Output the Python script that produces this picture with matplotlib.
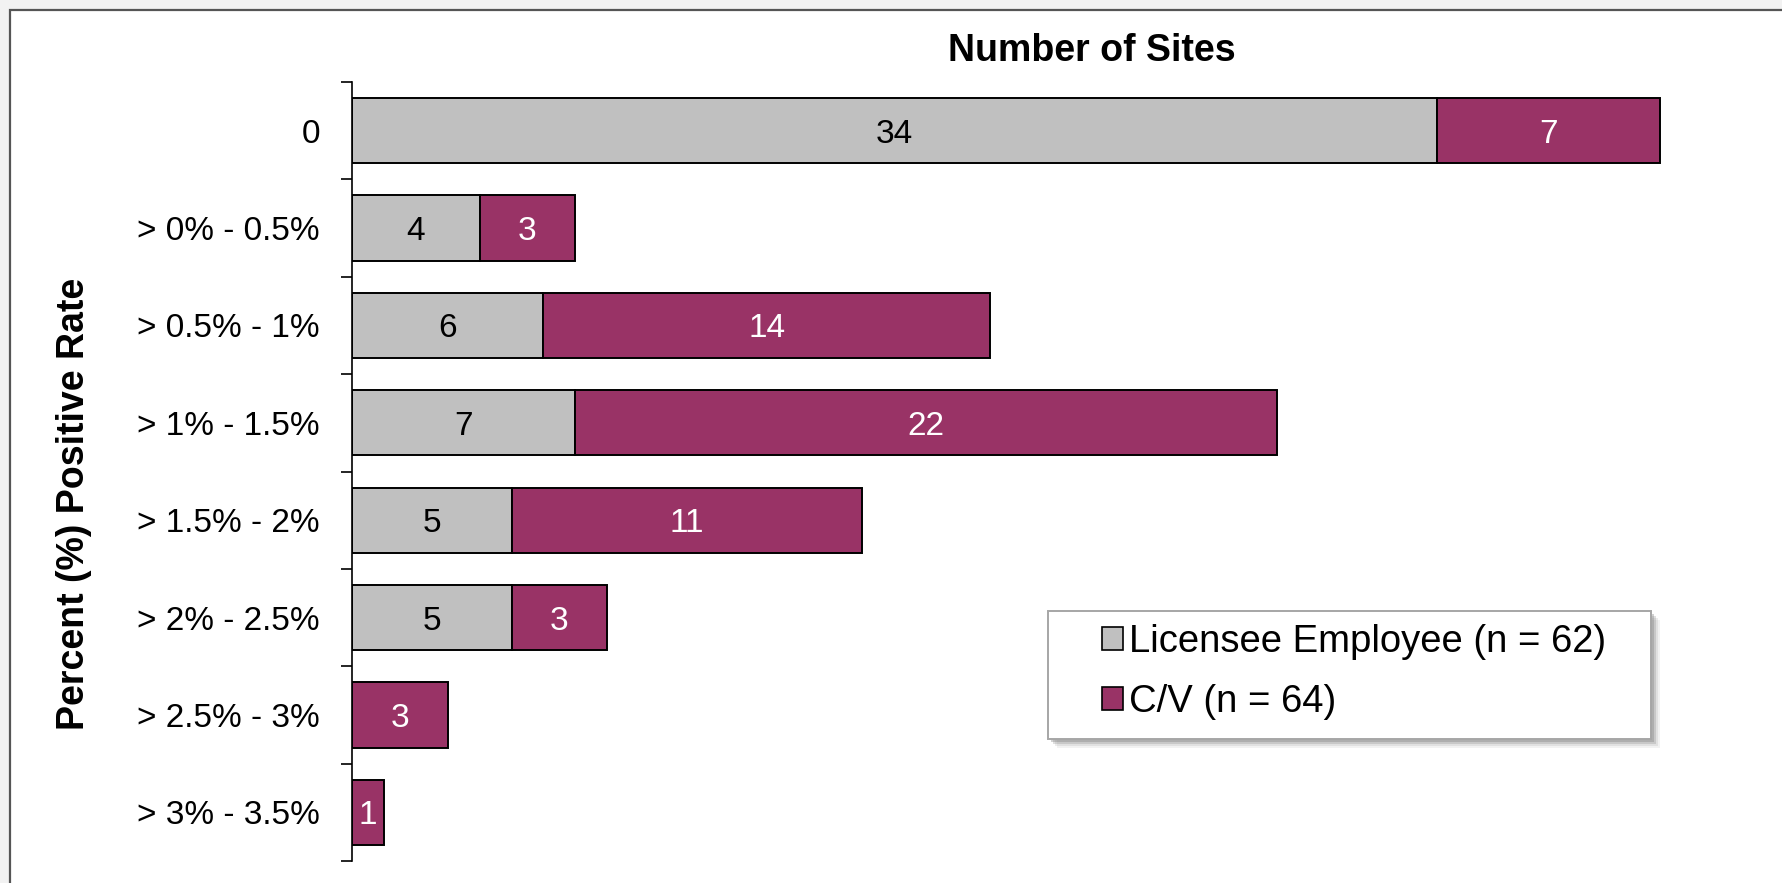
import numpy as np
import matplotlib.pyplot as plt
from matplotlib.patches import Rectangle

plt.rcParams['font.family'] = ['Liberation Sans', 'DejaVu Sans']

# data
categories = ['0', '> 0% - 0.5%', '> 0.5% - 1%', '> 1% - 1.5%',
              '> 1.5% - 2%', '> 2% - 2.5%', '> 2.5% - 3%', '> 3% - 3.5%']
licensee = [34, 4, 6, 7, 5, 5, 0, 0]
cv = [7, 3, 14, 22, 11, 3, 3, 1]
series_names = ['Licensee Employee (n = 62)', 'C/V (n = 64)']

gray = '#c0c0c0'
maroon = '#993366'
W, H = 1783, 883

fig = plt.figure(figsize=(W / 100, H / 100), dpi=100, facecolor='#f2f2f2')

# white chart area with a dark frame, cut off at right/bottom like the screenshot
fig.patches.append(Rectangle((10 / W, -0.1), 1.2, 0.1 + 1 - 10 / H,
                             transform=fig.transFigure, facecolor='white',
                             edgecolor='#555555', linewidth=1.6, zorder=-5))

ax = fig.add_axes([352 / W, (H - 861) / H, (1708 - 352) / W, (861 - 82) / H])
ax.set_facecolor('none')
ax.set_zorder(2)

y = np.arange(len(categories))
b1 = ax.barh(y, licensee, height=0.67, color=gray, edgecolor='black',
             linewidth=1.4, label=series_names[0])
b2 = ax.barh(y, cv, left=licensee, height=0.67, color=maroon, edgecolor='black',
             linewidth=1.4, label=series_names[1])

for rect, v in zip(b1, licensee):
    if v > 0:
        ax.text(rect.get_x() + rect.get_width() / 2, rect.get_y() + rect.get_height() / 2,
                str(v), ha='center', va='center_baseline', fontsize=24, color='black')
for rect, v in zip(b2, cv):
    if v > 0:
        ax.text(rect.get_x() + rect.get_width() / 2, rect.get_y() + rect.get_height() / 2,
                str(v), ha='center', va='center_baseline', fontsize=24, color='white')

ax.set_xlim(0, 42.5)
ax.set_ylim(len(categories) - 0.5, -0.5)
ax.set_yticks(y)
ax.set_yticklabels(categories, fontsize=24)
ax.tick_params(axis='y', which='major', length=0, pad=23)
ax.set_yticks(np.arange(len(categories) + 1) - 0.5, minor=True)
ax.tick_params(axis='y', which='minor', length=8, width=1.2, direction='out')
ax.set_xticks([])
for s in ['top', 'right', 'bottom']:
    ax.spines[s].set_visible(False)
ax.spines['left'].set_linewidth(1.2)

fig.text(1092 / W, 1 - 51 / H, 'Number of Sites', ha='center', va='center',
         fontsize=27, fontweight='bold')
fig.text(74 / W, 1 - 504 / H, 'Percent (%) Positive Rate', ha='center', va='center',
         rotation=90, fontsize=27, fontweight='bold')

# legend box with a soft shadow, drawn by hand so it can be wider than the text
lx0, lx1, ly0, ly1 = 1048, 1651, 611, 739
for off, a in [(9, 0.10), (7, 0.15), (5, 0.25), (3, 0.35)]:
    fig.patches.append(Rectangle(((lx0 + off) / W, 1 - (ly1 + off) / H),
                                 (lx1 - lx0) / W, (ly1 - ly0) / H,
                                 transform=fig.transFigure, facecolor='#808080',
                                 edgecolor='none', alpha=a, zorder=3))
fig.patches.append(Rectangle((lx0 / W, 1 - ly1 / H), (lx1 - lx0) / W, (ly1 - ly0) / H,
                             transform=fig.transFigure, facecolor='white',
                             edgecolor='#a6a6a6', linewidth=1.4, zorder=4))

leg = fig.legend(handles=[b1, b2], labels=series_names, loc='center left',
                 bbox_to_anchor=(1102 / W, 1 - 672 / H), fontsize=27.5, frameon=False,
                 handlelength=0.55, handleheight=0.55, handletextpad=0.15,
                 labelspacing=0.62, borderpad=0, borderaxespad=0)
leg.set_zorder(5)
for h in leg.legend_handles:
    h.set_linewidth(1.2)

fig.savefig('out.png', dpi=100, facecolor=fig.get_facecolor())
